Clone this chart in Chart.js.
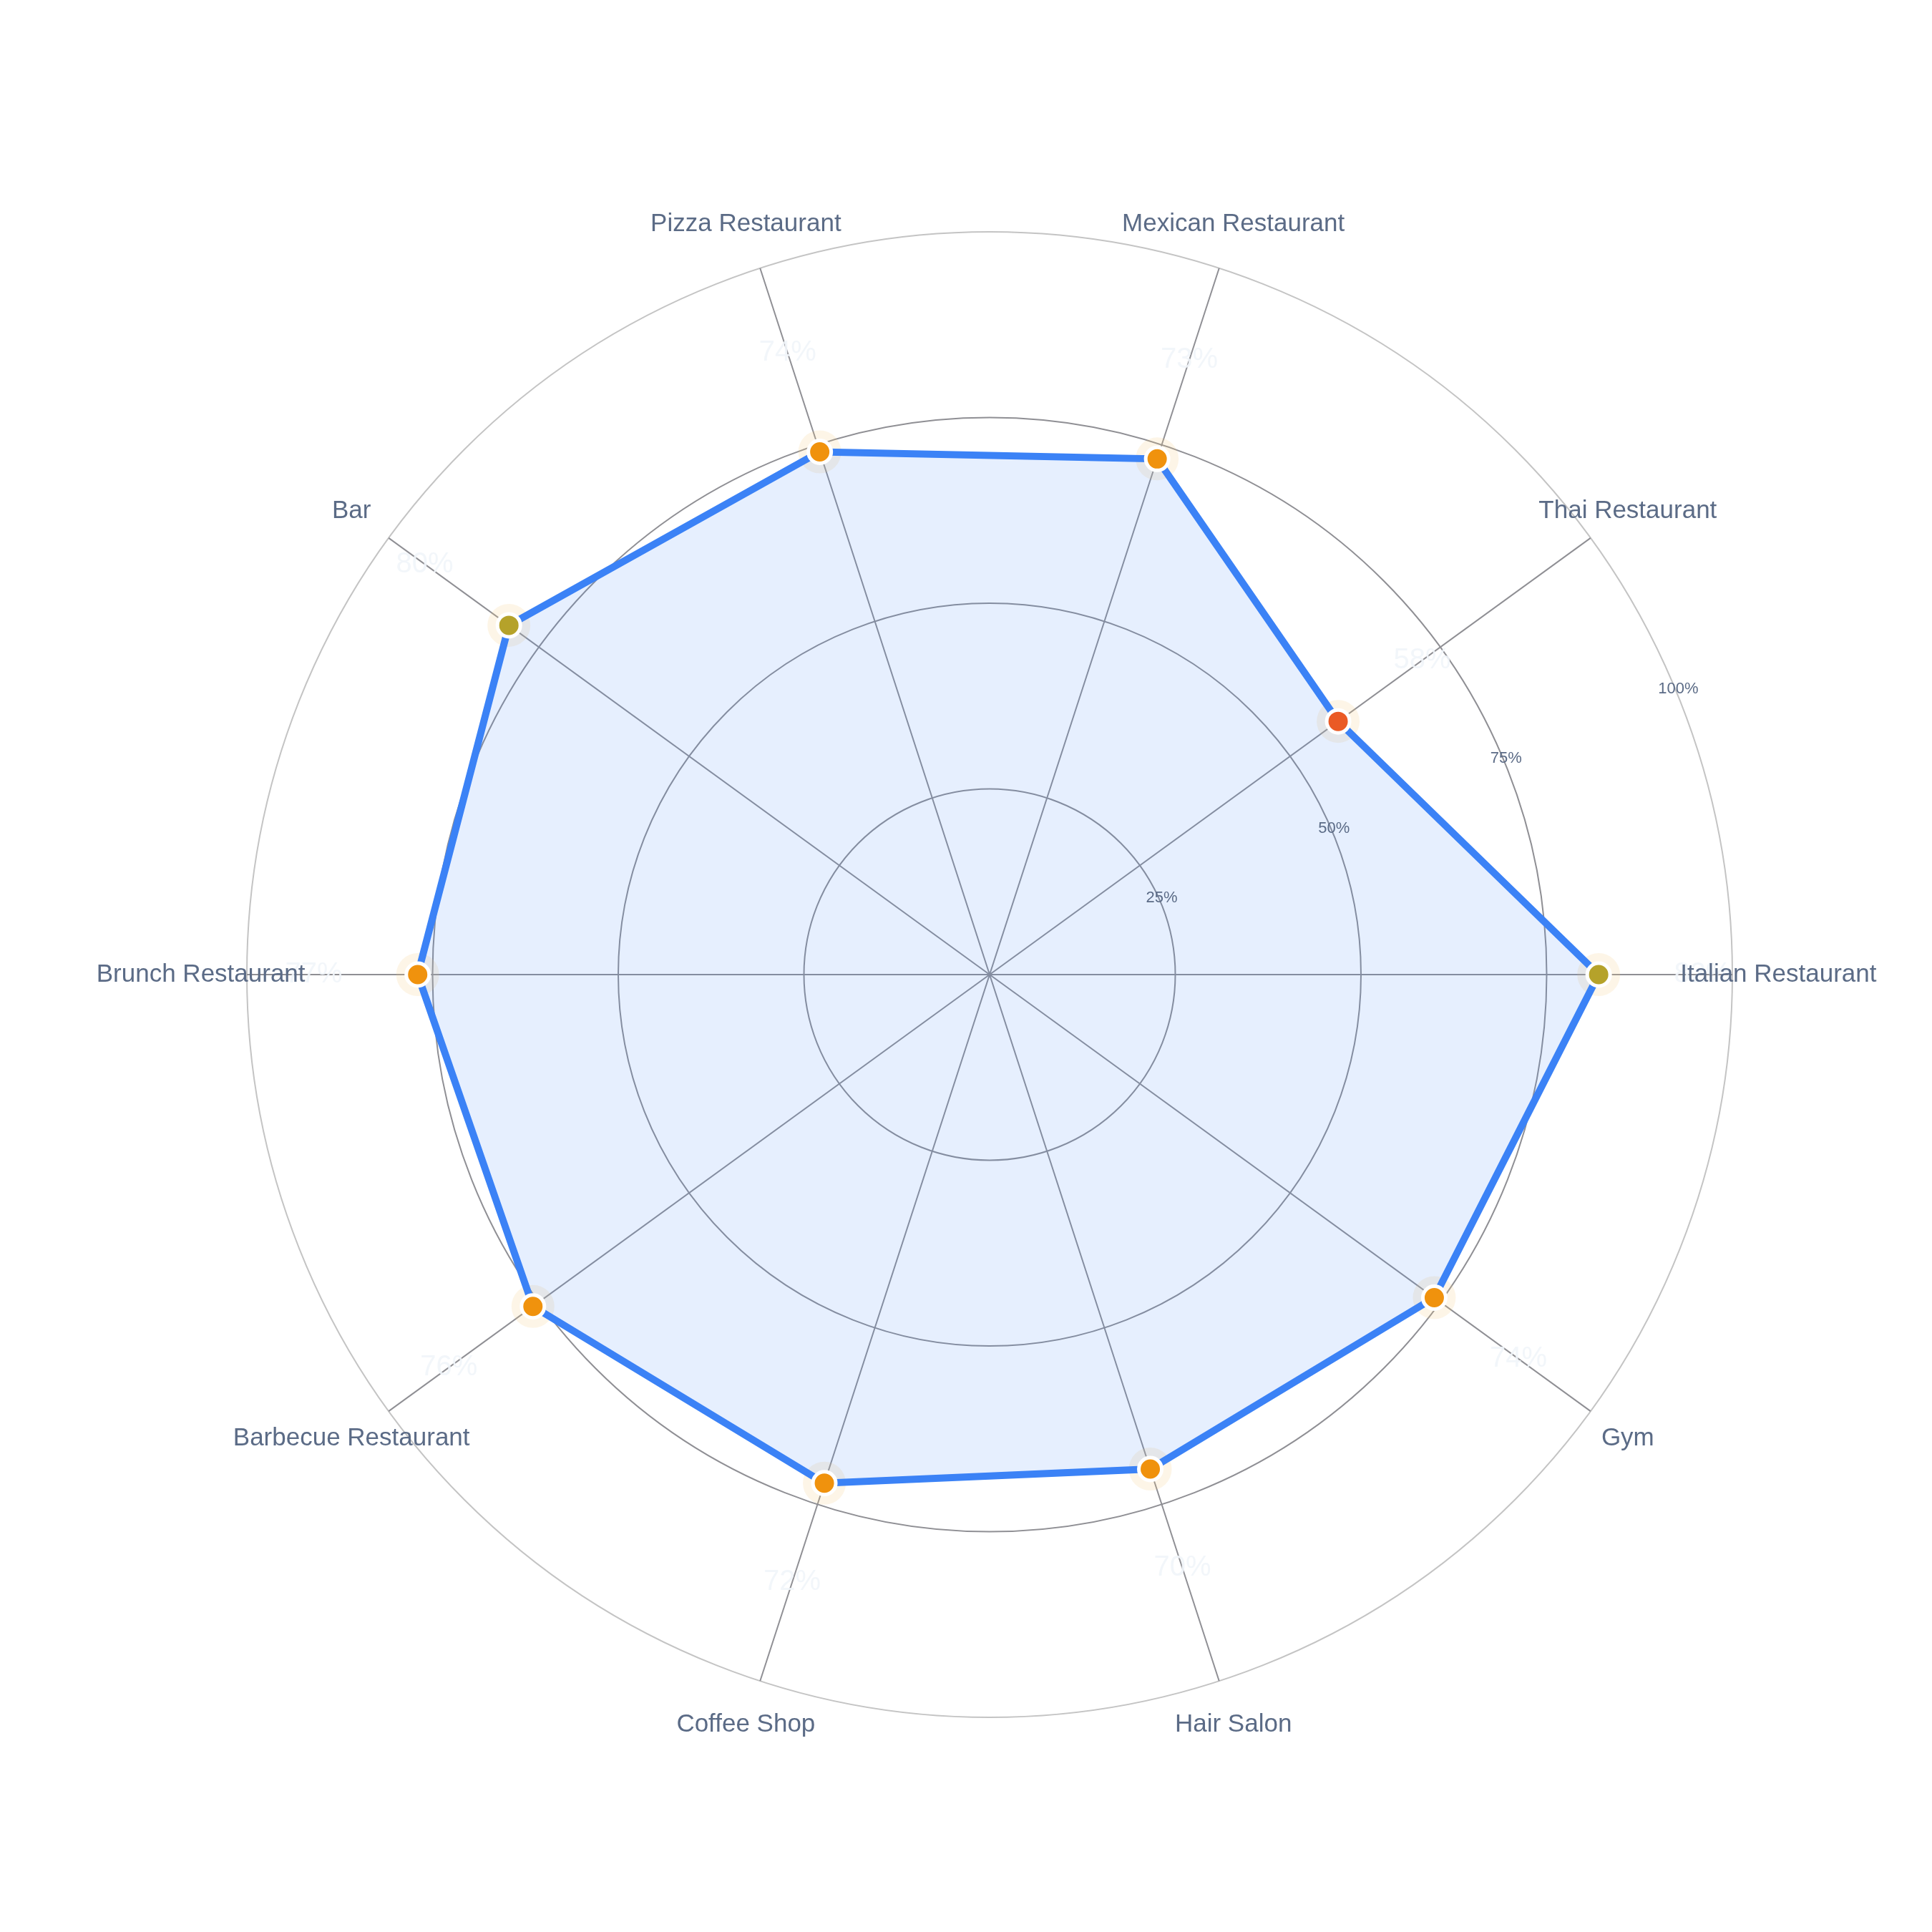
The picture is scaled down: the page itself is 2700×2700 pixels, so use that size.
<!DOCTYPE html>
<html>
<head>
<meta charset="utf-8">
<script src="https://cdn.jsdelivr.net/npm/chart.js@4"></script>
<style>
  html, body { margin: 0; padding: 0; background: #fff; }
  #wrap { width: 2700px; height: 2700px; }
</style>
</head>
<body>
<div id="wrap"><canvas id="radar"></canvas></div>
<script>
  // order is clockwise from the right, so the picture runs counter-clockwise from Italian
  var categories = ['Italian Restaurant', 'Gym', 'Hair Salon', 'Coffee Shop', 'Barbecue Restaurant',
    'Brunch Restaurant', 'Bar', 'Pizza Restaurant', 'Mexican Restaurant', 'Thai Restaurant'];
  var scores = [82, 74, 70, 72, 76, 77, 80, 74, 73, 58];
  var tickValues = [25, 50, 75, 100];

  function pointColor(v) {
    if (v >= 80) return '#b5a22a';
    if (v < 65) return '#ea5a25';
    return '#f0920d';
  }
  var pointColors = scores.map(pointColor);

  var overlay = {
    id: 'overlay',
    beforeDatasetsDraw: function(chart) {
      var ctx = chart.ctx;
      var meta = chart.getDatasetMeta(0);
      ctx.save();
      meta.data.forEach(function(pt) {
        ctx.beginPath();
        ctx.arc(pt.x, pt.y, 30, 0, Math.PI * 2);
        ctx.fillStyle = 'rgba(245, 200, 120, 0.18)';
        ctx.fill();
      });
      ctx.restore();
    },
    afterDatasetsDraw: function(chart) {
      var ctx = chart.ctx;
      var scale = chart.scales.r;
      ctx.save();
      ctx.textAlign = 'center';
      ctx.textBaseline = 'middle';
      // value labels, very faint
      ctx.font = '40px "Liberation Sans", Arial, sans-serif';
      ctx.fillStyle = 'rgba(241, 245, 249, 0.9)';
      scores.forEach(function(v, i) {
        var p = scale.getPointPosition(i, scale.getDistanceFromCenterForValue(v + 14));
        ctx.fillText(v + '%', p.x, p.y);
      });
      // category labels
      ctx.font = '35px "Liberation Sans", Arial, sans-serif';
      ctx.fillStyle = '#5b6b86';
      categories.forEach(function(c, i) {
        var p = scale.getPointPosition(i, scale.drawingArea * 1.062);
        ctx.fillText(c, p.x, p.y);
      });
      // tick labels along a slanted line
      ctx.font = '22px "Liberation Sans", Arial, sans-serif';
      ctx.fillStyle = '#5b6b86';
      var ang = -22 * Math.PI / 180;
      tickValues.forEach(function(t) {
        var r = scale.getDistanceFromCenterForValue(t);
        ctx.fillText(t + '%', scale.xCenter + r * Math.cos(ang), scale.yCenter + r * Math.sin(ang) - 10);
      });
      ctx.restore();
    }
  };

  new Chart(document.getElementById('radar'), {
    type: 'radar',
    data: {
      labels: categories,
      datasets: [{
        data: scores,
        borderColor: '#3b82f6',
        borderWidth: 10,
        backgroundColor: 'rgba(59, 130, 246, 0.13)',
        fill: true,
        pointRadius: 16,
        pointBorderWidth: 5,
        pointBorderColor: '#ffffff',
        pointBackgroundColor: pointColors
      }]
    },
    options: {
      responsive: true,
      maintainAspectRatio: false,
      devicePixelRatio: 1,
      animation: false,
      layout: { padding: { left: 345, right: 279, top: 324, bottom: 300 } },
      plugins: { legend: { display: false }, tooltip: { enabled: false } },
      scales: {
        r: {
          min: 0,
          max: 100,
          startAngle: 90,
          ticks: { display: false, stepSize: 25 },
          pointLabels: { display: false },
          grid: {
            circular: true,
            lineWidth: 2,
            color: function(c) { return c.tick && c.tick.value === 100 ? '#c4c4c4' : '#8f8f94'; }
          },
          angleLines: { color: '#8f8f94', lineWidth: 2 }
        }
      }
    },
    plugins: [overlay]
  });
</script>
</body>
</html>
